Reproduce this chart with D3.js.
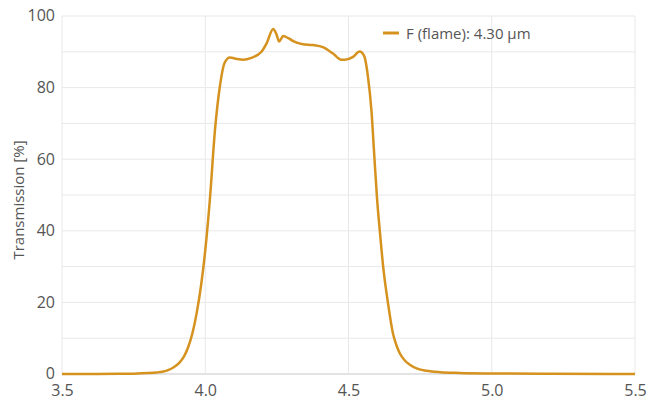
<!DOCTYPE html>
<html>
<head>
<meta charset="utf-8">
<script src="https://cdn.jsdelivr.net/npm/d3@7"></script>
<style>
  html, body { margin: 0; padding: 0; background: #fff; }
  svg { display: block; font-family: "Open Sans", "Noto Sans", sans-serif; }
</style>
</head>
<body>
<svg id="chart" width="650" height="400"></svg>
<script>
// Wavelength [µm]
const wavelength = [3.50, 3.60, 3.70, 3.75, 3.80, 3.83, 3.85, 3.87, 3.89, 3.91, 3.925, 3.94, 3.955, 3.97, 3.985,
  4.0, 4.016, 4.034, 4.051, 4.068, 4.086, 4.11, 4.132, 4.161, 4.196, 4.215, 4.237, 4.248, 4.258, 4.272, 4.29, 4.307,
  4.341, 4.376, 4.411, 4.446, 4.475, 4.487, 4.516, 4.539, 4.555, 4.568, 4.58, 4.59, 4.600, 4.609, 4.621,
  4.638, 4.655, 4.667, 4.679, 4.695, 4.714, 4.74, 4.772, 4.82, 4.888, 5.0, 5.2, 5.5];
// Transmission [%]
const transmission = [0.0, 0.02, 0.05, 0.1, 0.25, 0.42, 0.62, 1.1, 1.9, 3.2, 4.8, 7.4, 11.3, 17, 24.5,
  34.5, 48.6, 68.2, 80.3, 87.0, 88.4, 88.0, 87.8, 88.3, 90.0, 92.5, 96.4, 95.0, 92.9, 94.4, 93.8, 93.0,
  92.1, 91.9, 91.3, 89.5, 87.8, 87.8, 88.6, 90.1, 88.8, 83, 73.7, 61, 48.6, 40.2, 30,
  19.7, 11.4, 8.1, 5.8, 3.9, 2.6, 1.5, 0.9, 0.5, 0.3, 0.15, 0.05, 0.0];
const xTicks = [3.5, 4.0, 4.5, 5.0, 5.5];
const yTicks = [0, 20, 40, 60, 80, 100];
const yGrid = [0, 10, 20, 30, 40, 50, 60, 70, 80, 90, 100];
const seriesName = "F (flame): 4.30 µm";
const yTitle = "Transmission [%]";

const W = 650, H = 400;
const m = { left: 62, right: 15, top: 16, bottom: 26 };
const color = "#d6921f";
const svg = d3.select("#chart");

const x = d3.scaleLinear().domain([3.5, 5.5]).range([m.left, W - m.right]);
const y = d3.scaleLinear().domain([0, 100]).range([H - m.bottom, m.top]);

// gridlines
svg.append("g").selectAll("line").data(yGrid).join("line")
  .attr("x1", m.left).attr("x2", W - m.right)
  .attr("y1", d => y(d)).attr("y2", d => y(d))
  .attr("stroke", d => d === 0 ? "#e3e3e3" : "#e8e8e8")
  .attr("stroke-width", d => d === 0 ? 2 : 1);
svg.append("g").selectAll("line").data(xTicks).join("line")
  .attr("x1", d => x(d)).attr("x2", d => x(d))
  .attr("y1", m.top).attr("y2", H - m.bottom)
  .attr("stroke", "#e8e8e8").attr("stroke-width", 1);

// axes (labels only)
const xAxis = svg.append("g").attr("transform", `translate(0,${H - m.bottom})`)
  .call(d3.axisBottom(x).tickValues(xTicks).tickFormat(d3.format(".1f")).tickSize(0).tickPadding(11));
const yAxis = svg.append("g").attr("transform", `translate(${m.left},0)`)
  .call(d3.axisLeft(y).tickValues(yTicks).tickSize(0).tickPadding(7));
[xAxis, yAxis].forEach(a => {
  a.select(".domain").remove();
  a.selectAll("text").attr("fill", "#555").style("font-size", "16px")
    .style("font-family", "\"Open Sans\", sans-serif");
});
yAxis.selectAll("text").attr("dy", "0.3em");

// y title
svg.append("text")
  .attr("transform", `translate(24,${(m.top + H - m.bottom) / 2 + 5}) rotate(-90)`)
  .attr("text-anchor", "middle")
  .attr("fill", "#555").style("font-size", "15px")
  .text(yTitle);

// curve
const data = wavelength.map((w, i) => ({ w, t: transmission[i] }));
svg.append("path").datum(data)
  .attr("fill", "none").attr("stroke", color).attr("stroke-width", 2.5)
  .attr("stroke-linejoin", "round")
  .attr("d", d3.line().x(d => x(d.w)).y(d => y(d.t)).curve(d3.curveMonotoneX));

// legend
const lg = svg.append("g").attr("transform", "translate(383,33)");
lg.append("line").attr("x1", 0).attr("x2", 16).attr("y1", 0).attr("y2", 0)
  .attr("stroke", color).attr("stroke-width", 3);
lg.append("text").attr("x", 23).attr("y", 5.5)
  .attr("fill", "#555").style("font-size", "15px").text(seriesName);
</script>
</body>
</html>
